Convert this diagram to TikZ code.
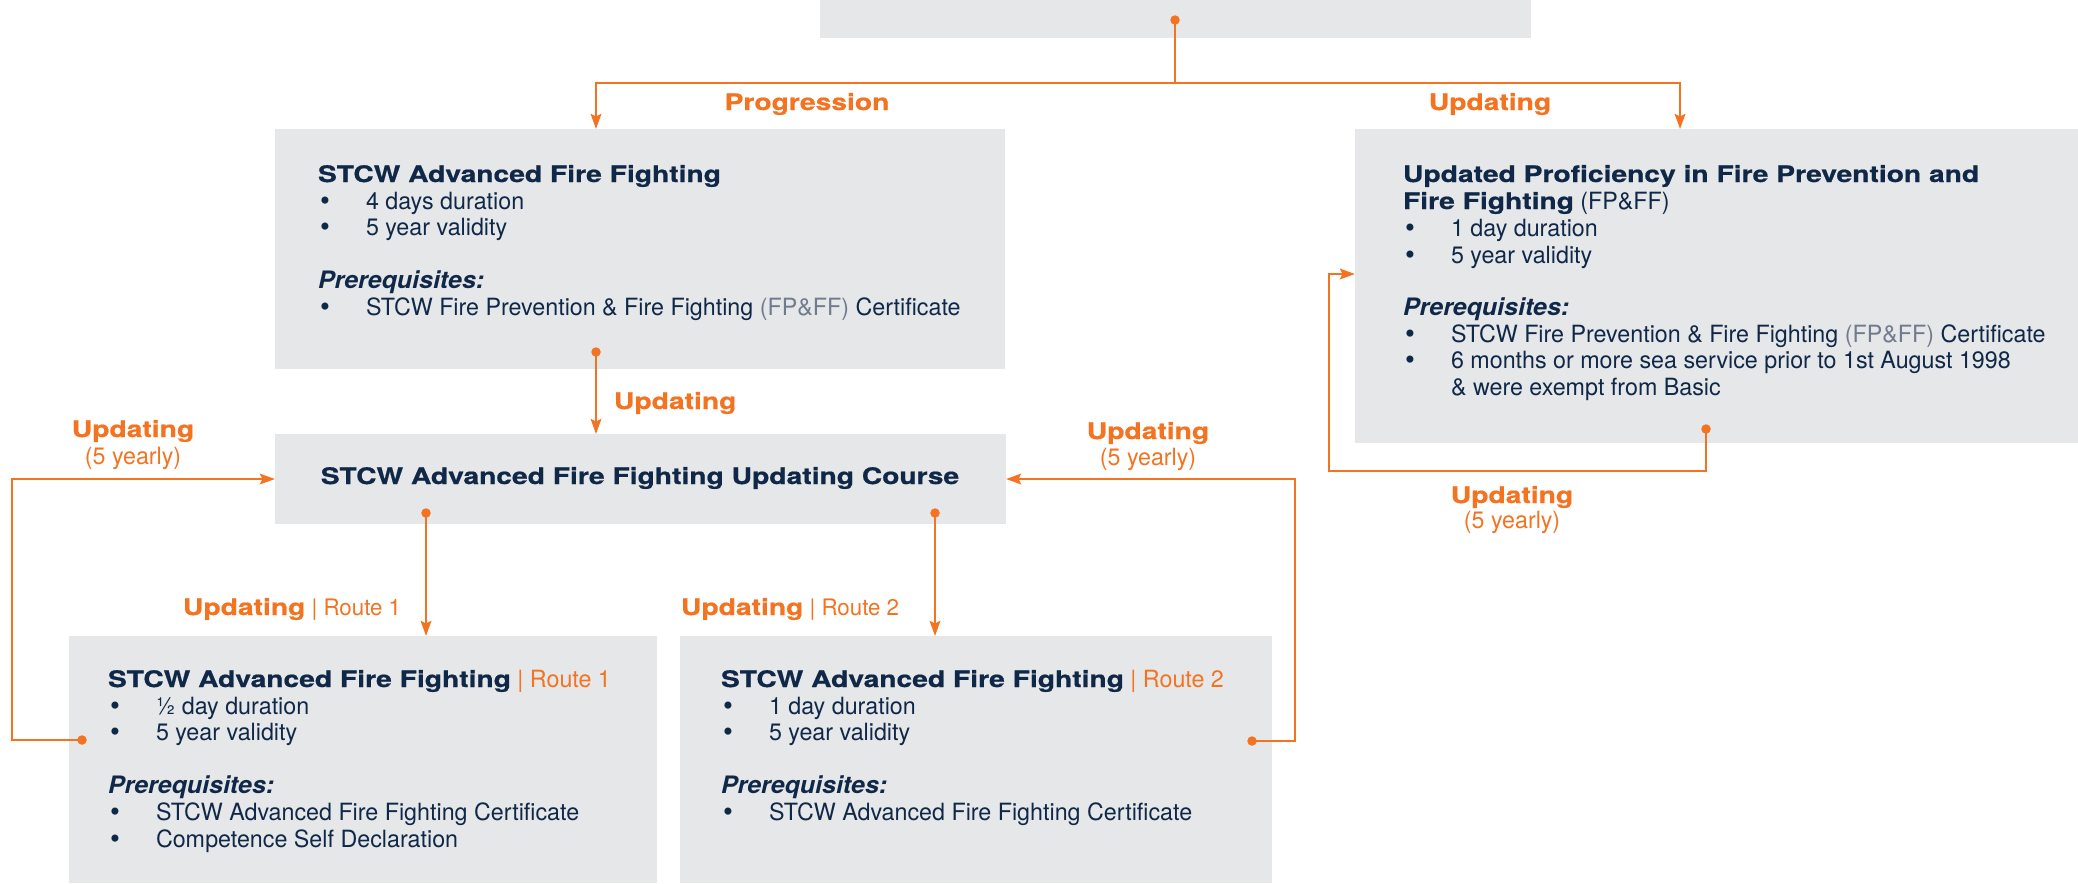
\documentclass[tikz,border=0pt]{standalone}
\usepackage{fontspec}
\setmainfont{TeX Gyre Heros}[FakeStretch=0.98]
\newfontfamily\hvb{TeX Gyre Heros}[FakeStretch=1.24, BoldFeatures={FakeBold=0.7}]
\newfontfamily\hvp{TeX Gyre Heros}[FakeStretch=1.04]
\newfontfamily\hvl{TeX Gyre Heros}[FakeStretch=0.98]
\usetikzlibrary{arrows.meta}
\definecolor{boxgray}{RGB}{230,231,232}
\definecolor{navy}{RGB}{16,40,72}
\definecolor{orng}{RGB}{243,115,33}
\definecolor{fpgray}{RGB}{112,124,142}
\newcommand\bul{\makebox[18.4pt][l]{\raisebox{-0.4pt}{\fontsize{11.5pt}{11.5pt}\selectfont\textbullet}}}
\begin{document}
\begin{tikzpicture}[x=0.4pt,y=-0.4pt,
  box/.style={fill=boxgray, inner sep=0pt, outer sep=0pt},
  txt/.style={anchor=base west, inner sep=0pt, outer sep=0pt, text=navy, font=\fontsize{9.5pt}{11pt}\selectfont},
  ttl/.style={txt, font=\hvb\bfseries\fontsize{9.1pt}{11pt}\selectfont},
  pre/.style={txt, font=\hvp\bfseries\itshape\fontsize{9.6pt}{11pt}\selectfont},
  lbl/.style={anchor=base, inner sep=0pt, outer sep=0pt, text=orng, font=\hvb\bfseries\fontsize{9.1pt}{11pt}\selectfont},
  sub/.style={anchor=base, inner sep=0pt, outer sep=0pt, text=orng, font=\fontsize{9.5pt}{11pt}\selectfont},
  conn/.style={draw=orng, line width=1.1pt, -{Stealth[length=6pt,width=4.2pt,inset=1pt]}},
  dot/.style={fill=orng}]
\useasboundingbox (0,0) rectangle (2078,883);

% boxes
\node[box, minimum width=284.4pt, minimum height=15.2pt] (top) at (1175.5,19) {};
\node[box, minimum width=292pt, minimum height=96pt] (A) at (640,249) {};
\node[box, minimum width=292.4pt, minimum height=36pt] (B) at (640.5,479) {};
\node[box, minimum width=235.2pt, minimum height=98.8pt] (C) at (363,759.5) {};
\node[box, minimum width=236.8pt, minimum height=98.8pt] (D) at (976,759.5) {};
\node[box, minimum width=289.2pt, minimum height=125.6pt] (E) at (1716.5,286) {};

% connector points
\coordinate (dT) at (1175,20);
\coordinate (jT) at (1175,83);
\coordinate (aIn) at (596,129);
\coordinate (eIn) at (1680,129);
\coordinate (dA) at (596,352);
\coordinate (dB1) at (426,513);
\coordinate (dB2) at (935,513);
\coordinate (dC) at (82,740);
\coordinate (cL) at (12,740);
\coordinate (dD) at (1252,741);
\coordinate (dR) at (1295,741);
\coordinate (dE) at (1706,429);
\coordinate (eLoop) at (1329,471);
\coordinate (eY) at (0,274);

% connectors
\draw[conn] (dT) -- (jT) -| (aIn);
\draw[conn] (jT) -| (eIn);
\draw[conn] (dA) -- (dA |- B.north);
\draw[conn] (dB1) -- (dB1 |- C.north);
\draw[conn] (dB2) -- (dB2 |- D.north);
\draw[conn] (dC) -- (cL) |- (B.west);
\draw[conn] (dD) -- (dR) |- (B.east);
\draw[conn] (dE) |- (eLoop) |- (E.west |- eY);

% dots
\foreach \p in {dT,dA,dB1,dB2,dC,dD,dE} \fill[dot] (\p) circle (1.9pt);

% connector labels
\node[lbl] (lProg) at (807,110) {Progression};
\node[lbl] (lUpTop) at (1490,110) {Updating};
\node[lbl, anchor=base west] (lUpA) at (614,409) {Updating};
\node[lbl] (lUpL) at (133,437) {Updating};
\node[sub] (lUpL2) at (133,464) {(5 yearly)};
\node[lbl] (lUpR) at (1148,439) {Updating};
\node[sub] (lUpR2) at (1148,465) {(5 yearly)};
\node[lbl] (lUpE) at (1512,503) {Updating};
\node[sub] (lUpE2) at (1512,528) {(5 yearly)};
\node[lbl, anchor=base west] (lR1) at (183,615) {Updating{\hvl\mdseries\ | Route 1}};
\node[lbl, anchor=base west] (lR2) at (681,615) {Updating{\hvl\mdseries\ | Route 2}};

% box A text
\node[ttl] (a0) at (318,182) {STCW Advanced Fire Fighting};
\node[txt] (a1) at (320,209) {\bul 4 days duration};
\node[txt] (a2) at (320,235) {\bul 5 year validity};
\node[pre] (a3) at (318,288) {Prerequisites:};
\node[txt] (a4) at (320,315) {\bul STCW Fire Prevention \& Fire Fighting {\color{fpgray}(FP\&FF)} Certificate};

% box B text
\node[ttl, anchor=base] (b0) at (640,484) {STCW Advanced Fire Fighting Updating Course};

% box C text
\node[ttl] (c0) at (108,687) {STCW Advanced Fire Fighting{\hvl\mdseries\fontsize{9.5pt}{11pt}\selectfont\color{orng}\ | Route 1}};
\node[txt] (c1) at (110,714) {\bul ½ day duration};
\node[txt] (c2) at (110,740) {\bul 5 year validity};
\node[pre] (c3) at (108,793) {Prerequisites:};
\node[txt] (c4) at (110,820) {\bul STCW Advanced Fire Fighting Certificate};
\node[txt] (c5) at (110,847) {\bul Competence Self Declaration};

% box D text
\node[ttl] (d0) at (721,687) {STCW Advanced Fire Fighting{\hvl\mdseries\fontsize{9.5pt}{11pt}\selectfont\color{orng}\ | Route 2}};
\node[txt] (d1) at (723,714) {\bul 1 day duration};
\node[txt] (d2) at (723,740) {\bul 5 year validity};
\node[pre] (d3) at (721,793) {Prerequisites:};
\node[txt] (d4) at (723,820) {\bul STCW Advanced Fire Fighting Certificate};

% box E text
\node[ttl] (e0) at (1403,182) {Updated Proficiency in Fire Prevention and};
\node[ttl] (e1) at (1403,209) {Fire Fighting{\hvl\mdseries\fontsize{9.5pt}{11pt}\selectfont\ (FP\&FF)}};
\node[txt] (e2) at (1405,236) {\bul 1 day duration};
\node[txt] (e3) at (1405,263) {\bul 5 year validity};
\node[pre] (e4) at (1403,315) {Prerequisites:};
\node[txt] (e5) at (1405,342) {\bul STCW Fire Prevention \& Fire Fighting {\color{fpgray}(FP\&FF)} Certificate};
\node[txt] (e6) at (1405,368) {\bul 6 months or more sea service prior to 1st August 1998};
\node[txt] (e7) at (1451,395) {\& were exempt from Basic};
\end{tikzpicture}
\end{document}
